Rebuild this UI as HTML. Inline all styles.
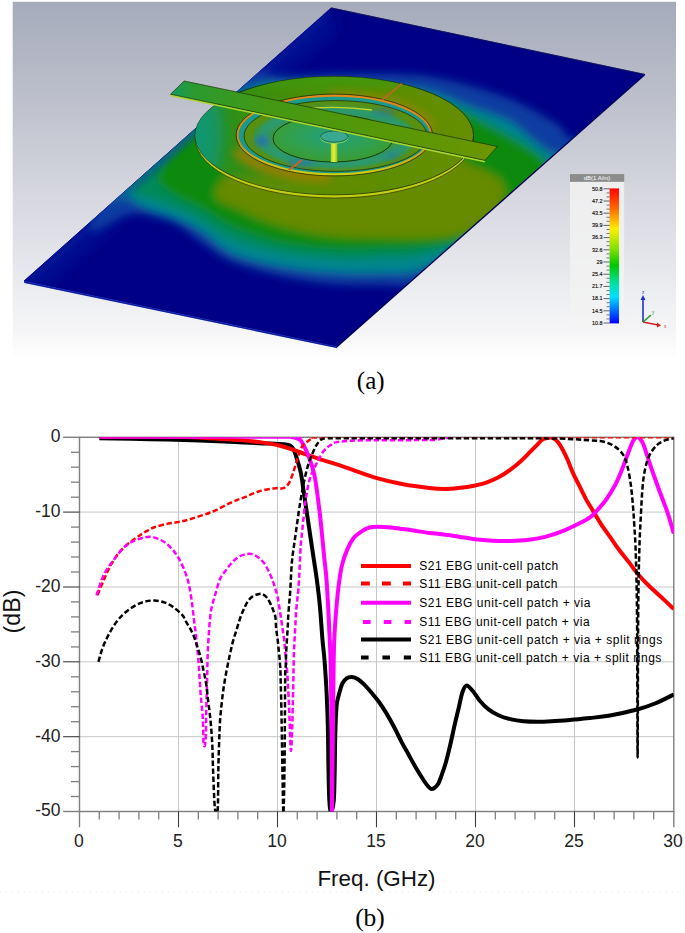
<!DOCTYPE html>
<html><head><meta charset="utf-8"><style>
html,body{margin:0;padding:0;background:#fff;}
body{width:685px;height:933px;overflow:hidden;position:relative;font-family:"Liberation Sans",sans-serif;}
svg{position:absolute;left:0;top:0;}
.cap{position:absolute;font-family:"Liberation Serif",serif;color:#000;}
</style></head><body>
<svg width="685" height="933" viewBox="0 0 685 933" font-family="Liberation Sans, sans-serif">
<defs>
<linearGradient id="bg" x1="0" y1="0" x2="0" y2="1">
<stop offset="0" stop-color="#a5abbb"/><stop offset="0.26" stop-color="#bcbfcb"/><stop offset="0.554" stop-color="#d7d8e0"/>
<stop offset="0.833" stop-color="#eeeff2"/><stop offset="0.917" stop-color="#f5f5f7"/><stop offset="1" stop-color="#ffffff"/>
</linearGradient>
<clipPath id="plate"><polygon points="331.2,7.9 644.7,74.4 336.7,346.4 24,281"/></clipPath>
<filter id="b12" x="-50%" y="-50%" width="200%" height="200%"><feGaussianBlur stdDeviation="12"/></filter>
<filter id="b8" x="-50%" y="-50%" width="200%" height="200%"><feGaussianBlur stdDeviation="8"/></filter>
<filter id="b5" x="-50%" y="-50%" width="200%" height="200%"><feGaussianBlur stdDeviation="5"/></filter>
<filter id="b4" x="-50%" y="-50%" width="200%" height="200%"><feGaussianBlur stdDeviation="4.5"/></filter>
<filter id="b3" x="-50%" y="-50%" width="200%" height="200%"><feGaussianBlur stdDeviation="3"/></filter>
<filter id="b1" x="-50%" y="-50%" width="200%" height="200%"><feGaussianBlur stdDeviation="1.2"/></filter>
<linearGradient id="cbar" x1="0" y1="0" x2="0" y2="1">
<stop offset="0" stop-color="#ff0000"/><stop offset="0.15" stop-color="#ff6a00"/><stop offset="0.3" stop-color="#ffee00"/>
<stop offset="0.45" stop-color="#80e000"/><stop offset="0.57" stop-color="#00c800"/><stop offset="0.7" stop-color="#00e0a0"/>
<stop offset="0.8" stop-color="#00e0ff"/><stop offset="0.9" stop-color="#0070ff"/><stop offset="1" stop-color="#0000ff"/>
</linearGradient>
<linearGradient id="via" x1="0" y1="0" x2="1" y2="0">
<stop offset="0" stop-color="#a8d820"/><stop offset="0.5" stop-color="#e8f040"/><stop offset="1" stop-color="#90c020"/>
</linearGradient>
<linearGradient id="diskg" x1="195" y1="0" x2="474" y2="0" gradientUnits="userSpaceOnUse">
<stop offset="0" stop-color="#229050"/><stop offset="0.12" stop-color="#2e9018"/><stop offset="0.4" stop-color="#4e8e06"/><stop offset="0.7" stop-color="#5e8e02"/><stop offset="1" stop-color="#668e00"/>
</linearGradient>
<radialGradient id="patchg" cx="0.5" cy="0.45" r="0.55">
<stop offset="0" stop-color="#20a080"/><stop offset="0.6" stop-color="#30a050"/><stop offset="1" stop-color="#3a9c30"/>
</radialGradient>
<linearGradient id="stripg" x1="170" y1="0" x2="497" y2="0" gradientUnits="userSpaceOnUse">
<stop offset="0" stop-color="#149a6a"/><stop offset="0.07" stop-color="#2a9a30"/><stop offset="0.3" stop-color="#449814"/><stop offset="0.6" stop-color="#549808"/><stop offset="0.85" stop-color="#629604"/><stop offset="1" stop-color="#6c9600"/>
</linearGradient>
<clipPath id="diskclip"><ellipse cx="334.3" cy="135.6" rx="139.2" ry="59.2"/></clipPath>
<linearGradient id="ringg" x1="0" y1="95" x2="0" y2="175" gradientUnits="userSpaceOnUse">
<stop offset="0" stop-color="#e08a1c"/><stop offset="0.55" stop-color="#d08a10"/><stop offset="1" stop-color="#d0d010"/>
</linearGradient>
</defs>
<rect x="12.7" y="1.8" width="663.3" height="358" fill="url(#bg)"/>
<polygon points="331.2,7.9 644.7,74.4 336.7,346.4 24,281" fill="#000086" stroke="#000086" stroke-width="0.8" stroke-linejoin="round"/>
<g clip-path="url(#plate)">
<rect x="0" y="0" width="685" height="360" fill="#000086"/>
<polygon points="331.2,7.9 24,281 40,290 336,30" fill="#0020a0" filter="url(#b8)" opacity="0.5"/>
<g filter="url(#b4)">
<path d="M90.0,230.0 C91.5,237.3 117.7,216.0 129.0,214.0 C140.3,212.0 150.7,216.5 158.0,218.0 C165.3,219.5 168.0,220.7 173.0,223.0 C178.0,225.3 182.7,228.3 188.0,232.0 C193.3,235.7 197.7,240.0 205.0,245.0 C212.3,250.0 219.5,256.8 232.0,262.0 C244.5,267.2 263.7,272.3 280.0,276.0 C296.3,279.7 313.3,282.5 330.0,284.0 C346.7,285.5 364.2,285.3 380.0,285.0 C395.8,284.7 405.0,289.5 425.0,282.0 C445.0,274.5 470.8,263.7 500.0,240.0 C529.2,216.3 588.3,157.0 600.0,140.0 C611.7,123.0 577.2,140.7 570.0,138.0 C562.8,135.3 567.3,130.7 557.0,124.0 C546.7,117.3 526.8,105.5 508.0,98.0 C489.2,90.5 462.0,83.0 444.0,79.0 C426.0,75.0 419.0,74.8 400.0,74.0 C381.0,73.2 350.0,73.7 330.0,74.0 C310.0,74.3 293.3,76.7 280.0,76.0 C266.7,75.3 263.3,67.7 250.0,70.0 C236.7,72.3 221.7,73.3 200.0,90.0 C178.3,106.7 138.3,146.7 120.0,170.0 C101.7,193.3 88.5,222.7 90.0,230.0 Z" fill="#0a3ca0"/>
<path d="M110.0,200.0 C102.7,207.8 120.3,195.8 126.0,197.0 C131.7,198.2 136.7,203.8 144.0,207.0 C151.3,210.2 160.7,212.2 170.0,216.0 C179.3,219.8 189.7,223.8 200.0,230.0 C210.3,236.2 218.7,247.0 232.0,253.0 C245.3,259.0 263.7,262.8 280.0,266.0 C296.3,269.2 313.3,270.8 330.0,272.0 C346.7,273.2 364.2,273.7 380.0,273.0 C395.8,272.3 408.3,275.2 425.0,268.0 C441.7,260.8 457.5,248.0 480.0,230.0 C502.5,212.0 548.3,172.8 560.0,160.0 C571.7,147.2 554.8,156.5 550.0,153.0 C545.2,149.5 538.0,144.3 531.0,139.0 C524.0,133.7 518.2,126.3 508.0,121.0 C497.8,115.7 484.7,112.2 470.0,107.0 C455.3,101.8 443.3,93.8 420.0,90.0 C396.7,86.2 356.7,85.0 330.0,84.0 C303.3,83.0 277.5,81.7 260.0,84.0 C242.5,86.3 240.0,87.0 225.0,98.0 C210.0,109.0 189.2,133.0 170.0,150.0 C150.8,167.0 117.3,192.2 110.0,200.0 Z" fill="#00868e"/>
<path d="M130.0,188.0 C130.0,195.2 150.0,198.5 160.0,203.0 C170.0,207.5 178.0,208.8 190.0,215.0 C202.0,221.2 217.0,233.7 232.0,240.0 C247.0,246.3 263.7,249.8 280.0,253.0 C296.3,256.2 313.3,258.0 330.0,259.0 C346.7,260.0 364.2,259.7 380.0,259.0 C395.8,258.3 410.0,259.0 425.0,255.0 C440.0,251.0 452.5,247.5 470.0,235.0 C487.5,222.5 520.8,191.7 530.0,180.0 C539.2,168.3 530.0,170.0 525.0,165.0 C520.0,160.0 509.2,156.7 500.0,150.0 C490.8,143.3 483.3,133.3 470.0,125.0 C456.7,116.7 443.3,105.0 420.0,100.0 C396.7,95.0 356.7,95.7 330.0,95.0 C303.3,94.3 280.0,92.7 260.0,96.0 C240.0,99.3 226.7,104.3 210.0,115.0 C193.3,125.7 173.3,147.8 160.0,160.0 C146.7,172.2 130.0,180.8 130.0,188.0 Z" fill="#008a5c"/>
<path d="M158.0,180.0 C159.0,186.8 169.0,191.3 176.0,196.0 C183.0,200.7 190.7,202.8 200.0,208.0 C209.3,213.2 218.7,221.2 232.0,227.0 C245.3,232.8 263.7,239.3 280.0,243.0 C296.3,246.7 313.3,248.0 330.0,249.0 C346.7,250.0 363.3,249.5 380.0,249.0 C396.7,248.5 415.0,247.8 430.0,246.0 C445.0,244.2 456.7,243.2 470.0,238.0 C483.3,232.8 499.2,223.8 510.0,215.0 C520.8,206.2 528.7,193.3 535.0,185.0 C541.3,176.7 549.7,171.7 548.0,165.0 C546.3,158.3 533.8,151.2 525.0,145.0 C516.2,138.8 505.8,133.8 495.0,128.0 C484.2,122.2 472.5,114.7 460.0,110.0 C447.5,105.3 441.7,100.8 420.0,100.0 C398.3,99.2 358.3,103.3 330.0,105.0 C301.7,106.7 271.7,105.8 250.0,110.0 C228.3,114.2 213.3,122.5 200.0,130.0 C186.7,137.5 177.0,146.7 170.0,155.0 C163.0,163.3 157.0,173.2 158.0,180.0 Z" fill="#108a0a"/>
<path d="M215.0,195.0 C215.0,201.7 229.2,204.8 240.0,210.0 C250.8,215.2 265.0,221.7 280.0,226.0 C295.0,230.3 313.3,234.0 330.0,236.0 C346.7,238.0 363.3,237.7 380.0,238.0 C396.7,238.3 415.8,238.8 430.0,238.0 C444.2,237.2 454.7,236.8 465.0,233.0 C475.3,229.2 485.3,221.3 492.0,215.0 C498.7,208.7 504.0,201.2 505.0,195.0 C506.0,188.8 503.8,183.0 498.0,178.0 C492.2,173.0 478.0,168.0 470.0,165.0 C462.0,162.0 473.3,160.0 450.0,160.0 C426.7,160.0 365.0,163.3 330.0,165.0 C295.0,166.7 259.2,165.0 240.0,170.0 C220.8,175.0 215.0,188.3 215.0,195.0 Z" fill="#668a00"/>
</g>
<polygon points="331.2,7.9 24,281 30,282 120,203 200,133 246,92 328,16" fill="#0a38a8" filter="url(#b3)" opacity="0.45"/>
</g>
<polygon points="24,281 336.7,346.4 337.4,348.3 24.2,282.9" fill="#1a34d0"/>
<polyline points="24.5,282.2 336.9,347.4" fill="none" stroke="#000040" stroke-width="0.6" opacity="0.8"/>
<polyline points="336.7,347 645,74.6" fill="none" stroke="#000050" stroke-width="1.2"/>
<polyline points="331.2,7.9 644.7,74.4" fill="none" stroke="#202040" stroke-width="0.6"/>
<ellipse cx="334.3" cy="138.2" rx="139.2" ry="59.8" fill="#c0d010" stroke="#303000" stroke-width="0.7"/>
<ellipse cx="334.3" cy="135.6" rx="139.2" ry="59.2" fill="url(#diskg)" stroke="#1a2800" stroke-width="0.8"/>
<g clip-path="url(#diskclip)">
<ellipse cx="200" cy="135" rx="22" ry="45" fill="#109878" filter="url(#b8)" opacity="0.8"/>
<ellipse cx="300" cy="185" rx="80" ry="12" fill="#6a8c00" filter="url(#b5)" opacity="0.6"/>
<ellipse cx="334" cy="80" rx="90" ry="10" fill="#3c9a10" filter="url(#b5)" opacity="0.7"/>
<path d="M236,150 A97,40 0 0 0 330,176" fill="none" stroke="#b07a00" stroke-width="9" filter="url(#b4)" opacity="0.9"/>
<path d="M330,96 A97,40 0 0 1 432,130" fill="none" stroke="#a08400" stroke-width="8" filter="url(#b4)" opacity="0.8"/>
</g>
<ellipse cx="334.3" cy="135" rx="96.7" ry="39.4" fill="#1a9a8c" stroke="url(#ringg)" stroke-width="2.2"/>
<ellipse cx="334.3" cy="135" rx="98.2" ry="40.9" fill="none" stroke="#202000" stroke-width="0.7"/>
<ellipse cx="335.6" cy="136" rx="91.5" ry="35.4" fill="#5a9010" stroke="#203000" stroke-width="0.8"/>
<ellipse cx="335" cy="137.5" rx="82" ry="30.5" fill="#3a9840" filter="url(#b1)"/>
<ellipse cx="335" cy="137.5" rx="72" ry="26.5" fill="none" stroke="#1a9aa0" stroke-width="6" filter="url(#b3)" opacity="0.75"/>
<path d="M300,109.5 Q335,105 372,110" fill="none" stroke="#c8d820" stroke-width="1.3"/>
<g filter="url(#b3)">
<ellipse cx="262" cy="141" rx="7" ry="5" fill="#2868c0" opacity="0.8"/>
<ellipse cx="300" cy="163" rx="14" ry="2.5" fill="#2868c0" opacity="0.8"/>
<ellipse cx="385" cy="112" rx="12" ry="3" fill="#2868c0" opacity="0.6"/>
<ellipse cx="392" cy="156" rx="8" ry="2.5" fill="#2868c0" opacity="0.6"/>
</g>
<ellipse cx="333" cy="138.5" rx="60" ry="23.5" fill="url(#patchg)" stroke="#102000" stroke-width="0.8"/>
<line x1="382" y1="100" x2="402" y2="83.6" stroke="#d0602a" stroke-width="1.6"/>
<line x1="289" y1="170" x2="302" y2="160" stroke="#d0602a" stroke-width="1.6"/>
<rect x="330.8" y="139" width="6.5" height="23" fill="url(#via)"/>
<ellipse cx="334.2" cy="137.8" rx="13.8" ry="5.6" fill="#30b0a0" stroke="#a0e040" stroke-width="0.8"/>
<ellipse cx="334.2" cy="136.6" rx="13.8" ry="5.6" fill="#38a890" stroke="#104020" stroke-width="0.6"/>
<polygon points="170.5,94.2 485,160.4 485,162.4 170.5,96.2" fill="#a8d830"/>
<polygon points="184.2,81 497.5,146.5 485,160.4 170.5,94.2" fill="url(#stripg)" stroke="#1a3000" stroke-width="0.7"/>
<rect x="570" y="181.8" width="54.2" height="144.7" fill="#f2f2f2" opacity="0.85"/>
<rect x="570" y="174.1" width="54.2" height="7.7" fill="#8c8c8c"/>
<text x="597" y="180.4" font-size="6" text-anchor="middle" fill="#fff">dB(1 A/m)</text>
<rect x="609.6" y="188.4" width="9.4" height="135" fill="url(#cbar)"/>
<line x1="603.5" y1="188.8" x2="609.6" y2="188.8" stroke="#222" stroke-width="0.7"/>
<text x="602.5" y="190.6" font-size="5.4" text-anchor="end" fill="#111" stroke="#111" stroke-width="0.15">50.8</text>
<line x1="606.5" y1="192.9" x2="609.6" y2="192.9" stroke="#222" stroke-width="0.6"/>
<line x1="606.5" y1="196.9" x2="609.6" y2="196.9" stroke="#222" stroke-width="0.6"/>
<line x1="603.5" y1="201.0" x2="609.6" y2="201.0" stroke="#222" stroke-width="0.7"/>
<text x="602.5" y="202.8" font-size="5.4" text-anchor="end" fill="#111" stroke="#111" stroke-width="0.15">47.2</text>
<line x1="606.5" y1="205.1" x2="609.6" y2="205.1" stroke="#222" stroke-width="0.6"/>
<line x1="606.5" y1="209.1" x2="609.6" y2="209.1" stroke="#222" stroke-width="0.6"/>
<line x1="603.5" y1="213.2" x2="609.6" y2="213.2" stroke="#222" stroke-width="0.7"/>
<text x="602.5" y="215.0" font-size="5.4" text-anchor="end" fill="#111" stroke="#111" stroke-width="0.15">43.5</text>
<line x1="606.5" y1="217.3" x2="609.6" y2="217.3" stroke="#222" stroke-width="0.6"/>
<line x1="606.5" y1="221.3" x2="609.6" y2="221.3" stroke="#222" stroke-width="0.6"/>
<line x1="603.5" y1="225.4" x2="609.6" y2="225.4" stroke="#222" stroke-width="0.7"/>
<text x="602.5" y="227.2" font-size="5.4" text-anchor="end" fill="#111" stroke="#111" stroke-width="0.15">39.9</text>
<line x1="606.5" y1="229.5" x2="609.6" y2="229.5" stroke="#222" stroke-width="0.6"/>
<line x1="606.5" y1="233.5" x2="609.6" y2="233.5" stroke="#222" stroke-width="0.6"/>
<line x1="603.5" y1="237.6" x2="609.6" y2="237.6" stroke="#222" stroke-width="0.7"/>
<text x="602.5" y="239.4" font-size="5.4" text-anchor="end" fill="#111" stroke="#111" stroke-width="0.15">36.3</text>
<line x1="606.5" y1="241.7" x2="609.6" y2="241.7" stroke="#222" stroke-width="0.6"/>
<line x1="606.5" y1="245.7" x2="609.6" y2="245.7" stroke="#222" stroke-width="0.6"/>
<line x1="603.5" y1="249.8" x2="609.6" y2="249.8" stroke="#222" stroke-width="0.7"/>
<text x="602.5" y="251.6" font-size="5.4" text-anchor="end" fill="#111" stroke="#111" stroke-width="0.15">32.6</text>
<line x1="606.5" y1="253.9" x2="609.6" y2="253.9" stroke="#222" stroke-width="0.6"/>
<line x1="606.5" y1="257.9" x2="609.6" y2="257.9" stroke="#222" stroke-width="0.6"/>
<line x1="603.5" y1="262.0" x2="609.6" y2="262.0" stroke="#222" stroke-width="0.7"/>
<text x="602.5" y="263.8" font-size="5.4" text-anchor="end" fill="#111" stroke="#111" stroke-width="0.15">29</text>
<line x1="606.5" y1="266.1" x2="609.6" y2="266.1" stroke="#222" stroke-width="0.6"/>
<line x1="606.5" y1="270.1" x2="609.6" y2="270.1" stroke="#222" stroke-width="0.6"/>
<line x1="603.5" y1="274.2" x2="609.6" y2="274.2" stroke="#222" stroke-width="0.7"/>
<text x="602.5" y="276.0" font-size="5.4" text-anchor="end" fill="#111" stroke="#111" stroke-width="0.15">25.4</text>
<line x1="606.5" y1="278.3" x2="609.6" y2="278.3" stroke="#222" stroke-width="0.6"/>
<line x1="606.5" y1="282.3" x2="609.6" y2="282.3" stroke="#222" stroke-width="0.6"/>
<line x1="603.5" y1="286.4" x2="609.6" y2="286.4" stroke="#222" stroke-width="0.7"/>
<text x="602.5" y="288.2" font-size="5.4" text-anchor="end" fill="#111" stroke="#111" stroke-width="0.15">21.7</text>
<line x1="606.5" y1="290.5" x2="609.6" y2="290.5" stroke="#222" stroke-width="0.6"/>
<line x1="606.5" y1="294.5" x2="609.6" y2="294.5" stroke="#222" stroke-width="0.6"/>
<line x1="603.5" y1="298.6" x2="609.6" y2="298.6" stroke="#222" stroke-width="0.7"/>
<text x="602.5" y="300.4" font-size="5.4" text-anchor="end" fill="#111" stroke="#111" stroke-width="0.15">18.1</text>
<line x1="606.5" y1="302.7" x2="609.6" y2="302.7" stroke="#222" stroke-width="0.6"/>
<line x1="606.5" y1="306.7" x2="609.6" y2="306.7" stroke="#222" stroke-width="0.6"/>
<line x1="603.5" y1="310.8" x2="609.6" y2="310.8" stroke="#222" stroke-width="0.7"/>
<text x="602.5" y="312.6" font-size="5.4" text-anchor="end" fill="#111" stroke="#111" stroke-width="0.15">14.5</text>
<line x1="606.5" y1="314.9" x2="609.6" y2="314.9" stroke="#222" stroke-width="0.6"/>
<line x1="606.5" y1="318.9" x2="609.6" y2="318.9" stroke="#222" stroke-width="0.6"/>
<line x1="603.5" y1="323.0" x2="609.6" y2="323.0" stroke="#222" stroke-width="0.7"/>
<text x="602.5" y="324.8" font-size="5.4" text-anchor="end" fill="#111" stroke="#111" stroke-width="0.15">10.8</text>
<line x1="643" y1="322" x2="643" y2="298" stroke="#2030d0" stroke-width="1.6"/>
<polygon points="640.5,300 645.5,300 643,295" fill="#2030d0"/>
<line x1="643" y1="322" x2="658" y2="325" stroke="#d02020" stroke-width="1.6"/>
<polygon points="657,322.5 657,327.5 661,325.5" fill="#d02020"/>
<line x1="643" y1="322" x2="651" y2="315" stroke="#20a020" stroke-width="1.6"/>
<text x="642" y="294" font-size="4.5" fill="#2030d0">z</text>
<text x="664" y="328" font-size="4.5" fill="#d02020">x</text>
<text x="652" y="314" font-size="4.5" fill="#20a020">y</text>
<line x1="79.5" y1="512.1" x2="673.8" y2="512.1" stroke="#c6c6c6" stroke-width="1"/>
<line x1="79.5" y1="587.0" x2="673.8" y2="587.0" stroke="#c6c6c6" stroke-width="1"/>
<line x1="79.5" y1="661.8" x2="673.8" y2="661.8" stroke="#c6c6c6" stroke-width="1"/>
<line x1="79.5" y1="736.7" x2="673.8" y2="736.7" stroke="#c6c6c6" stroke-width="1"/>
<line x1="178.5" y1="437.3" x2="178.5" y2="811.5" stroke="#c6c6c6" stroke-width="1"/>
<line x1="277.5" y1="437.3" x2="277.5" y2="811.5" stroke="#c6c6c6" stroke-width="1"/>
<line x1="376.5" y1="437.3" x2="376.5" y2="811.5" stroke="#c6c6c6" stroke-width="1"/>
<line x1="475.5" y1="437.3" x2="475.5" y2="811.5" stroke="#c6c6c6" stroke-width="1"/>
<line x1="574.5" y1="437.3" x2="574.5" y2="811.5" stroke="#c6c6c6" stroke-width="1"/>
<rect x="79.5" y="437.3" width="594.3" height="374.2" fill="none" stroke="#7f7f7f" stroke-width="1.4"/>
<line x1="63.1" y1="437.3" x2="79.5" y2="437.3" stroke="#7f7f7f" stroke-width="1.4"/>
<line x1="71.0" y1="452.3" x2="79.5" y2="452.3" stroke="#7f7f7f" stroke-width="1.3"/>
<line x1="71.0" y1="467.2" x2="79.5" y2="467.2" stroke="#7f7f7f" stroke-width="1.3"/>
<line x1="71.0" y1="482.2" x2="79.5" y2="482.2" stroke="#7f7f7f" stroke-width="1.3"/>
<line x1="71.0" y1="497.2" x2="79.5" y2="497.2" stroke="#7f7f7f" stroke-width="1.3"/>
<line x1="63.1" y1="512.1" x2="79.5" y2="512.1" stroke="#3c3c3c" stroke-width="1.1"/>
<line x1="71.0" y1="527.1" x2="79.5" y2="527.1" stroke="#7f7f7f" stroke-width="1.3"/>
<line x1="71.0" y1="542.1" x2="79.5" y2="542.1" stroke="#7f7f7f" stroke-width="1.3"/>
<line x1="71.0" y1="557.0" x2="79.5" y2="557.0" stroke="#7f7f7f" stroke-width="1.3"/>
<line x1="71.0" y1="572.0" x2="79.5" y2="572.0" stroke="#7f7f7f" stroke-width="1.3"/>
<line x1="63.1" y1="587.0" x2="79.5" y2="587.0" stroke="#3c3c3c" stroke-width="1.1"/>
<line x1="71.0" y1="601.9" x2="79.5" y2="601.9" stroke="#7f7f7f" stroke-width="1.3"/>
<line x1="71.0" y1="616.9" x2="79.5" y2="616.9" stroke="#7f7f7f" stroke-width="1.3"/>
<line x1="71.0" y1="631.9" x2="79.5" y2="631.9" stroke="#7f7f7f" stroke-width="1.3"/>
<line x1="71.0" y1="646.9" x2="79.5" y2="646.9" stroke="#7f7f7f" stroke-width="1.3"/>
<line x1="63.1" y1="661.8" x2="79.5" y2="661.8" stroke="#3c3c3c" stroke-width="1.1"/>
<line x1="71.0" y1="676.8" x2="79.5" y2="676.8" stroke="#7f7f7f" stroke-width="1.3"/>
<line x1="71.0" y1="691.8" x2="79.5" y2="691.8" stroke="#7f7f7f" stroke-width="1.3"/>
<line x1="71.0" y1="706.7" x2="79.5" y2="706.7" stroke="#7f7f7f" stroke-width="1.3"/>
<line x1="71.0" y1="721.7" x2="79.5" y2="721.7" stroke="#7f7f7f" stroke-width="1.3"/>
<line x1="63.1" y1="736.7" x2="79.5" y2="736.7" stroke="#3c3c3c" stroke-width="1.1"/>
<line x1="71.0" y1="751.6" x2="79.5" y2="751.6" stroke="#7f7f7f" stroke-width="1.3"/>
<line x1="71.0" y1="766.6" x2="79.5" y2="766.6" stroke="#7f7f7f" stroke-width="1.3"/>
<line x1="71.0" y1="781.6" x2="79.5" y2="781.6" stroke="#7f7f7f" stroke-width="1.3"/>
<line x1="71.0" y1="796.5" x2="79.5" y2="796.5" stroke="#7f7f7f" stroke-width="1.3"/>
<line x1="63.1" y1="811.5" x2="79.5" y2="811.5" stroke="#7f7f7f" stroke-width="1.4"/>
<line x1="79.5" y1="811.5" x2="79.5" y2="827.3" stroke="#7f7f7f" stroke-width="1.4"/>
<line x1="99.3" y1="811.5" x2="99.3" y2="819.6" stroke="#7f7f7f" stroke-width="1.3"/>
<line x1="119.1" y1="811.5" x2="119.1" y2="819.6" stroke="#7f7f7f" stroke-width="1.3"/>
<line x1="138.9" y1="811.5" x2="138.9" y2="819.6" stroke="#7f7f7f" stroke-width="1.3"/>
<line x1="158.7" y1="811.5" x2="158.7" y2="819.6" stroke="#7f7f7f" stroke-width="1.3"/>
<line x1="178.5" y1="811.5" x2="178.5" y2="827.3" stroke="#3c3c3c" stroke-width="1.1"/>
<line x1="198.3" y1="811.5" x2="198.3" y2="819.6" stroke="#7f7f7f" stroke-width="1.3"/>
<line x1="218.1" y1="811.5" x2="218.1" y2="819.6" stroke="#7f7f7f" stroke-width="1.3"/>
<line x1="237.9" y1="811.5" x2="237.9" y2="819.6" stroke="#7f7f7f" stroke-width="1.3"/>
<line x1="257.7" y1="811.5" x2="257.7" y2="819.6" stroke="#7f7f7f" stroke-width="1.3"/>
<line x1="277.5" y1="811.5" x2="277.5" y2="827.3" stroke="#3c3c3c" stroke-width="1.1"/>
<line x1="297.3" y1="811.5" x2="297.3" y2="819.6" stroke="#7f7f7f" stroke-width="1.3"/>
<line x1="317.1" y1="811.5" x2="317.1" y2="819.6" stroke="#7f7f7f" stroke-width="1.3"/>
<line x1="336.9" y1="811.5" x2="336.9" y2="819.6" stroke="#7f7f7f" stroke-width="1.3"/>
<line x1="356.7" y1="811.5" x2="356.7" y2="819.6" stroke="#7f7f7f" stroke-width="1.3"/>
<line x1="376.5" y1="811.5" x2="376.5" y2="827.3" stroke="#3c3c3c" stroke-width="1.1"/>
<line x1="396.3" y1="811.5" x2="396.3" y2="819.6" stroke="#7f7f7f" stroke-width="1.3"/>
<line x1="416.1" y1="811.5" x2="416.1" y2="819.6" stroke="#7f7f7f" stroke-width="1.3"/>
<line x1="435.9" y1="811.5" x2="435.9" y2="819.6" stroke="#7f7f7f" stroke-width="1.3"/>
<line x1="455.7" y1="811.5" x2="455.7" y2="819.6" stroke="#7f7f7f" stroke-width="1.3"/>
<line x1="475.5" y1="811.5" x2="475.5" y2="827.3" stroke="#3c3c3c" stroke-width="1.1"/>
<line x1="495.3" y1="811.5" x2="495.3" y2="819.6" stroke="#7f7f7f" stroke-width="1.3"/>
<line x1="515.1" y1="811.5" x2="515.1" y2="819.6" stroke="#7f7f7f" stroke-width="1.3"/>
<line x1="534.9" y1="811.5" x2="534.9" y2="819.6" stroke="#7f7f7f" stroke-width="1.3"/>
<line x1="554.7" y1="811.5" x2="554.7" y2="819.6" stroke="#7f7f7f" stroke-width="1.3"/>
<line x1="574.5" y1="811.5" x2="574.5" y2="827.3" stroke="#3c3c3c" stroke-width="1.1"/>
<line x1="594.3" y1="811.5" x2="594.3" y2="819.6" stroke="#7f7f7f" stroke-width="1.3"/>
<line x1="614.1" y1="811.5" x2="614.1" y2="819.6" stroke="#7f7f7f" stroke-width="1.3"/>
<line x1="633.9" y1="811.5" x2="633.9" y2="819.6" stroke="#7f7f7f" stroke-width="1.3"/>
<line x1="653.7" y1="811.5" x2="653.7" y2="819.6" stroke="#7f7f7f" stroke-width="1.3"/>
<line x1="673.8" y1="811.5" x2="673.8" y2="827.3" stroke="#7f7f7f" stroke-width="1.4"/>
<defs><clipPath id="pc"><rect x="79.5" y="437.3" width="594.3" height="374.2"/></clipPath></defs>
<g clip-path="url(#pc)" fill="none" stroke-linejoin="round">
<path d="M99.3,438.2 C107.8,438.4 133.2,438.8 150.0,439.2 C166.8,439.6 186.7,440.1 200.0,440.5 C213.3,440.9 221.7,441.4 230.0,441.8 C238.3,442.2 243.3,442.5 250.0,442.8 C256.7,443.1 264.1,443.3 270.0,443.6 C275.9,443.9 281.9,444.1 285.3,444.5 C288.7,444.9 289.0,445.0 290.4,445.8 C291.8,446.6 292.5,447.5 293.5,449.4 C294.5,451.3 295.2,453.4 296.4,457.2 C297.6,461.0 299.4,466.1 300.7,472.2 C302.0,478.3 302.9,486.5 304.0,493.6 C305.1,500.8 306.1,507.9 307.2,515.1 C308.3,522.3 309.3,529.5 310.4,536.6 C311.5,543.8 312.5,550.9 313.6,558.0 C314.7,565.1 315.7,571.3 316.8,579.5 C317.9,587.7 319.1,597.3 320.0,607.4 C320.9,617.5 321.8,631.4 322.5,640.0 C323.2,648.6 323.8,651.0 324.4,658.8 C325.0,666.6 325.7,676.0 326.3,687.0 C326.9,698.0 327.4,710.4 327.8,724.5 C328.2,738.6 328.2,758.9 328.5,771.5 C328.8,784.1 328.9,793.2 329.3,800.0 C329.7,806.8 330.2,812.0 331.0,812.0 C331.8,812.0 333.2,806.8 333.8,800.0 C334.4,793.2 334.4,782.5 334.7,771.5 C334.9,760.5 335.0,744.9 335.3,733.9 C335.6,722.9 336.0,712.2 336.6,705.7 C337.2,699.2 337.9,698.7 338.8,695.0 C339.8,691.3 341.0,686.4 342.3,683.6 C343.6,680.8 345.0,679.5 346.6,678.4 C348.2,677.3 350.0,677.0 351.9,677.1 C353.8,677.2 355.8,677.9 358.0,679.3 C360.2,680.7 362.7,683.1 365.0,685.4 C367.3,687.7 369.7,690.5 372.0,693.3 C374.3,696.1 376.7,698.8 379.0,702.0 C381.3,705.2 383.4,708.3 386.0,712.6 C388.6,716.9 392.0,723.0 394.6,728.0 C397.2,733.0 399.5,738.0 401.9,742.6 C404.3,747.2 406.8,751.3 409.2,755.7 C411.6,760.1 414.1,764.7 416.5,768.8 C418.9,772.9 421.9,777.6 423.8,780.5 C425.7,783.4 426.8,784.9 428.0,786.3 C429.2,787.7 430.0,788.6 431.1,788.9 C432.2,789.1 433.3,788.7 434.5,787.8 C435.7,786.9 437.3,785.3 438.4,783.4 C439.5,781.5 440.1,779.5 441.3,776.1 C442.5,772.7 444.2,768.1 445.7,763.0 C447.2,757.9 448.6,751.8 450.1,745.5 C451.6,739.2 453.1,731.8 454.5,725.5 C455.9,719.2 457.5,713.1 458.8,707.5 C460.1,701.9 461.2,695.7 462.5,692.0 C463.8,688.3 464.9,685.6 466.6,685.4 C468.3,685.2 470.6,688.5 472.8,691.0 C475.0,693.5 477.2,697.6 479.8,700.7 C482.4,703.8 485.3,706.9 488.5,709.4 C491.7,711.9 495.2,713.8 499.0,715.5 C502.8,717.2 507.2,718.4 511.3,719.4 C515.4,720.4 519.2,720.8 523.6,721.2 C528.0,721.6 532.9,721.7 537.6,721.7 C542.3,721.7 546.2,721.5 551.6,721.2 C557.0,720.9 563.6,720.4 570.0,719.9 C576.4,719.4 583.3,718.7 590.0,718.0 C596.7,717.3 602.2,716.9 610.0,715.5 C617.8,714.1 629.5,711.5 637.0,709.5 C644.5,707.5 648.9,706.0 655.0,703.5 C661.1,701.0 670.7,696.0 673.8,694.5" stroke="#000" stroke-width="4"/>
<path d="M99.3,436.5 C107.8,436.5 135.7,436.5 150.0,436.6 C164.3,436.7 176.7,436.8 185.0,437.0 C193.3,437.2 194.8,437.3 200.0,437.6 C205.2,437.9 210.7,438.3 216.0,438.6 C221.3,438.9 226.0,439.2 232.0,439.6 C238.0,440.0 245.6,440.5 251.9,441.2 C258.2,441.9 265.3,442.8 270.0,443.6 C274.7,444.4 276.8,444.9 280.2,445.8 C283.6,446.7 287.0,447.8 290.4,448.9 C293.8,450.0 297.3,451.3 300.7,452.5 C304.1,453.7 307.5,454.9 310.9,456.1 C314.3,457.3 317.7,458.5 321.1,459.6 C324.5,460.7 326.7,461.2 331.3,462.7 C335.9,464.1 340.9,465.7 348.5,468.3 C356.1,470.9 367.8,475.5 376.9,478.2 C386.0,480.9 394.4,482.7 403.2,484.3 C412.0,485.9 422.6,487.2 429.5,488.0 C436.4,488.8 439.7,488.9 444.8,488.9 C449.9,488.9 455.1,488.3 460.0,487.8 C464.9,487.3 469.6,486.6 474.0,485.7 C478.4,484.8 482.2,484.0 486.3,482.6 C490.4,481.2 494.4,479.5 498.5,477.3 C502.6,475.1 507.0,472.2 510.8,469.4 C514.6,466.6 518.1,463.6 521.3,460.7 C524.5,457.8 527.5,454.5 530.1,451.9 C532.7,449.3 535.1,446.9 537.1,444.9 C539.1,442.8 540.5,440.8 542.3,439.6 C544.0,438.4 545.8,438.2 547.6,437.9 C549.4,437.6 551.1,437.2 552.9,437.9 C554.6,438.6 556.4,440.1 558.1,442.3 C559.9,444.5 561.8,448.1 563.4,451.0 C565.0,453.9 566.1,456.4 567.7,460.0 C569.3,463.6 571.0,468.6 572.9,472.9 C574.8,477.2 577.2,481.4 579.3,485.7 C581.4,490.0 583.4,494.3 585.7,498.6 C588.1,502.9 590.8,507.1 593.4,511.4 C596.0,515.7 598.4,520.0 601.2,524.3 C604.0,528.6 607.2,532.9 610.2,537.2 C613.2,541.5 616.0,545.7 619.2,550.0 C622.4,554.3 626.5,559.0 629.5,562.9 C632.5,566.8 634.2,569.6 637.2,573.2 C640.2,576.8 643.5,580.5 647.6,584.5 C651.7,588.5 657.2,593.4 661.6,597.5 C666.0,601.6 671.8,607.1 673.8,609.0" stroke="#ff0000" stroke-width="4"/>
<path d="M99.3,436.7 C130.2,436.7 253.1,436.6 285.0,436.7 C316.9,436.8 289.2,436.8 291.0,437.0 C292.8,437.2 293.9,437.3 295.5,437.9 C297.1,438.5 299.2,438.8 300.7,440.4 C302.2,442.0 303.4,444.9 304.7,447.4 C306.0,449.9 307.1,452.4 308.3,455.5 C309.5,458.6 310.8,462.1 311.9,465.8 C313.0,469.6 314.1,473.1 315.0,478.0 C315.9,482.9 316.7,488.8 317.5,495.0 C318.3,501.2 319.2,508.2 320.0,515.1 C320.8,522.0 321.5,529.5 322.2,536.6 C322.9,543.8 323.6,550.9 324.3,558.0 C325.0,565.1 325.9,571.3 326.5,579.5 C327.1,587.7 327.7,598.1 328.2,607.4 C328.7,616.6 329.1,626.2 329.5,635.0 C329.9,643.8 330.3,649.2 330.6,660.0 C330.9,670.8 331.1,683.3 331.3,700.0 C331.5,716.7 331.7,741.3 331.8,760.0 C331.9,778.7 331.9,812.0 332.0,812.0 C332.1,812.0 332.4,778.7 332.6,760.0 C332.8,741.3 333.0,716.7 333.2,700.0 C333.4,683.3 333.5,670.8 333.7,660.0 C333.9,649.2 334.1,643.3 334.5,635.0 C334.9,626.7 335.5,618.5 336.2,610.1 C336.9,601.7 337.8,591.9 338.8,584.4 C339.8,576.9 340.6,570.9 342.0,565.1 C343.4,559.3 345.3,554.1 347.2,549.6 C349.1,545.1 351.2,541.0 353.6,538.0 C356.0,535.0 358.7,533.3 361.3,531.6 C363.9,529.9 366.5,528.5 369.1,527.7 C371.7,526.9 373.4,526.8 376.9,526.8 C380.4,526.8 384.9,526.9 390.0,527.4 C395.1,527.9 401.0,528.7 407.6,529.6 C414.2,530.5 424.1,532.3 429.5,533.0 C434.9,533.7 435.3,533.4 440.0,534.0 C444.7,534.6 451.7,535.5 457.5,536.4 C463.3,537.3 469.1,538.6 475.0,539.3 C480.9,540.0 486.8,540.4 492.6,540.7 C498.4,541.0 504.2,541.1 510.0,541.0 C515.8,540.9 521.8,540.8 527.6,540.1 C533.5,539.4 539.3,538.4 545.1,536.9 C550.9,535.4 557.3,533.2 562.6,531.1 C567.9,529.0 572.4,526.8 577.0,524.5 C581.6,522.2 586.5,520.0 590.0,517.4 C593.5,514.8 595.8,511.9 598.3,509.1 C600.8,506.3 603.2,503.5 605.3,500.7 C607.4,497.9 608.9,495.4 610.8,492.4 C612.6,489.4 614.7,486.2 616.4,482.7 C618.1,479.2 619.7,475.3 621.2,471.6 C622.7,467.9 624.0,464.2 625.4,460.5 C626.8,456.8 628.2,452.6 629.5,449.4 C630.8,446.2 632.0,443.1 633.0,441.1 C634.0,439.1 635.0,438.3 635.8,437.6 C636.6,436.9 637.0,436.8 637.6,436.9 C638.2,436.9 638.5,437.1 639.2,437.9 C639.9,438.7 641.2,440.1 642.0,441.5 C642.8,442.9 643.4,444.3 644.2,446.6 C645.1,448.9 646.1,452.5 647.1,455.4 C648.1,458.3 649.0,461.2 650.0,464.1 C651.0,467.0 651.9,469.8 653.0,472.9 C654.1,476.0 655.1,478.8 656.6,483.0 C658.1,487.2 660.2,493.0 662.1,498.0 C664.0,503.0 665.8,507.3 667.7,513.2 C669.7,519.1 672.8,530.1 673.8,533.5" stroke="#ff00ff" stroke-width="4"/>
<path d="M97.5,595.0 C98.5,592.7 101.1,586.2 103.2,581.4 C105.3,576.6 107.7,570.9 110.2,566.2 C112.7,561.5 115.7,556.9 118.4,553.4 C121.1,549.9 123.8,547.6 126.5,545.2 C129.2,542.8 132.2,540.6 134.7,538.8 C137.2,536.9 139.5,535.5 141.7,534.1 C143.8,532.7 145.4,531.8 147.6,530.6 C149.8,529.4 151.7,528.1 155.0,527.0 C158.3,525.9 163.7,524.5 167.6,523.7 C171.5,522.9 174.8,522.7 178.5,522.0 C182.2,521.3 184.0,520.9 189.5,519.3 C195.0,517.6 204.7,514.8 211.4,512.1 C218.2,509.4 224.5,505.5 230.0,503.0 C235.5,500.5 239.7,499.1 244.6,497.2 C249.5,495.2 254.3,492.8 259.2,491.3 C264.1,489.8 269.9,488.9 273.8,488.4 C277.7,487.9 280.2,489.1 282.6,488.4 C285.0,487.7 286.7,486.4 288.4,484.0 C290.1,481.6 291.3,477.9 292.8,473.8 C294.3,469.7 295.8,463.6 297.2,459.2 C298.6,454.8 299.7,450.5 301.5,447.5 C303.3,444.5 305.9,442.8 307.8,441.2 C309.7,439.6 310.7,438.8 312.9,438.2 C315.1,437.6 306.6,437.5 321.1,437.4 C335.6,437.2 341.2,437.3 400.0,437.3 C458.8,437.3 628.2,437.3 673.8,437.3" stroke="#ff0000" stroke-width="2.5" stroke-dasharray="5.4 2.6"/>
<path d="M96.5,595.5 C97.4,592.8 100.3,583.3 102.0,579.0 C103.7,574.7 105.1,572.4 106.7,569.7 C108.3,567.0 109.9,564.8 111.4,562.7 C113.0,560.6 114.5,558.9 116.0,556.9 C117.5,554.9 119.0,553.0 120.7,551.0 C122.5,549.0 124.4,546.9 126.5,545.2 C128.6,543.6 131.0,542.3 133.5,541.1 C136.0,539.9 139.0,538.9 141.7,538.2 C144.4,537.5 147.2,536.7 149.9,536.8 C152.6,536.9 155.4,537.7 158.1,538.8 C160.8,539.9 163.7,541.5 166.2,543.4 C168.7,545.3 171.1,548.0 173.2,550.4 C175.2,552.8 176.8,555.1 178.5,558.0 C180.2,560.9 182.0,564.5 183.5,568.0 C185.0,571.5 186.5,575.7 187.5,579.0 C188.5,582.3 188.8,584.0 189.6,588.0 C190.3,592.0 191.3,597.7 192.0,603.0 C192.7,608.3 193.4,615.0 194.0,620.0 C194.6,625.0 195.2,628.6 195.7,632.9 C196.2,637.2 196.6,641.5 197.0,645.8 C197.4,650.1 197.9,654.3 198.3,658.6 C198.7,662.9 198.9,667.2 199.2,671.5 C199.5,675.8 199.7,680.1 200.0,684.4 C200.3,688.7 200.4,691.6 200.9,697.3 C201.4,703.0 202.3,710.8 202.8,718.7 C203.3,726.6 203.2,740.8 203.7,744.5 C204.2,748.2 205.2,745.9 205.6,741.0 C206.0,736.1 206.0,721.7 206.2,714.9 C206.3,708.1 206.4,704.4 206.5,700.0 C206.6,695.6 206.8,693.5 206.9,688.7 C207.0,684.0 207.2,677.2 207.3,671.5 C207.4,665.8 207.5,660.0 207.7,654.3 C207.9,648.6 208.2,642.9 208.6,637.2 C209.0,631.5 209.4,624.9 209.9,620.0 C210.4,615.1 210.7,612.1 211.5,608.0 C212.3,603.9 213.6,600.1 215.0,595.3 C216.4,590.5 218.3,583.0 220.0,579.0 C221.7,575.0 223.3,573.9 225.0,571.5 C226.7,569.1 228.4,566.7 230.3,564.5 C232.2,562.3 234.2,560.0 236.4,558.4 C238.6,556.8 240.9,555.6 243.4,554.9 C245.9,554.2 248.8,553.6 251.3,554.0 C253.8,554.4 256.1,555.9 258.3,557.5 C260.5,559.1 262.6,561.3 264.4,563.6 C266.1,565.9 267.5,568.9 268.8,571.5 C270.1,574.1 271.3,576.8 272.3,579.4 C273.3,582.0 274.0,584.4 274.9,587.3 C275.8,590.2 276.8,593.3 277.6,596.9 C278.4,600.5 279.0,605.0 279.6,609.0 C280.2,613.0 280.9,617.2 281.4,620.8 C281.9,624.4 282.3,627.1 282.8,630.5 C283.3,633.9 283.9,637.6 284.3,641.1 C284.7,644.6 284.9,648.2 285.2,651.7 C285.5,655.2 285.9,658.9 286.2,662.3 C286.5,665.7 286.9,668.1 287.2,671.9 C287.5,675.7 287.7,678.6 288.0,685.0 C288.3,691.4 288.7,699.1 289.2,710.0 C289.7,720.9 290.4,748.0 290.9,750.5 C291.4,753.0 292.0,733.4 292.3,725.0 C292.6,716.6 292.7,707.7 292.9,700.0 C293.1,692.3 293.3,684.2 293.4,678.7 C293.5,673.2 293.5,671.4 293.6,667.1 C293.7,662.8 293.8,656.7 293.9,652.7 C294.0,648.7 294.2,646.7 294.4,643.0 C294.6,639.3 294.9,634.5 295.1,630.5 C295.3,626.5 295.5,622.4 295.7,618.9 C295.9,615.4 296.0,612.5 296.3,609.3 C296.6,606.1 297.0,602.8 297.3,599.6 C297.6,596.4 298.0,594.1 298.3,590.0 C298.6,585.9 298.9,582.3 299.3,575.0 C299.7,567.7 300.2,553.6 300.7,546.1 C301.2,538.6 301.6,537.2 302.3,530.0 C303.1,522.8 304.0,511.4 305.2,503.0 C306.4,494.6 308.0,485.6 309.6,479.6 C311.2,473.6 313.4,470.3 315.0,466.8 C316.6,463.3 317.5,461.3 319.0,458.6 C320.5,455.9 322.3,452.6 324.2,450.4 C326.1,448.2 328.1,446.7 330.3,445.3 C332.5,443.9 331.9,442.8 337.5,442.0 C343.1,441.2 350.3,440.6 363.8,440.3 C377.3,440.0 406.5,440.2 418.5,440.1 C430.5,440.0 430.8,440.3 436.0,439.8 C441.2,439.3 445.2,438.0 450.0,437.3 C454.8,436.6 427.7,435.9 465.0,435.6 C502.3,435.3 639.0,435.6 673.8,435.6" stroke="#ff00ff" stroke-width="2.5" stroke-dasharray="5.4 2.6"/>
<path d="M98.5,661.8 C99.1,659.8 100.5,653.7 102.0,649.6 C103.5,645.5 105.2,641.4 107.3,637.3 C109.3,633.2 111.7,628.8 114.3,625.0 C116.9,621.2 119.8,617.6 123.0,614.5 C126.2,611.4 130.0,608.7 133.5,606.6 C137.0,604.5 140.5,602.9 144.0,601.9 C147.5,600.9 151.1,600.4 154.6,600.5 C158.1,600.6 161.8,601.4 165.0,602.6 C168.2,603.8 170.9,605.4 173.8,607.5 C176.7,609.6 180.6,613.0 182.6,615.4 C184.6,617.8 184.7,619.5 186.0,621.7 C187.3,623.9 188.9,626.3 190.2,628.6 C191.5,630.9 192.5,632.6 193.6,635.5 C194.7,638.4 195.8,642.2 197.0,645.8 C198.2,649.4 199.5,653.2 200.5,656.9 C201.5,660.6 202.2,664.5 203.0,668.1 C203.8,671.7 204.5,675.0 205.2,678.4 C205.8,681.8 206.5,685.6 206.9,688.7 C207.3,691.9 207.1,692.3 207.7,697.3 C208.3,702.3 209.6,711.1 210.3,718.7 C211.1,726.3 211.7,734.3 212.2,743.0 C212.7,751.7 212.7,760.7 213.1,771.0 C213.5,781.3 214.1,797.8 214.6,804.8 C215.1,811.8 215.5,812.4 216.0,813.0 C216.5,813.6 217.4,815.5 217.8,808.5 C218.2,801.5 218.1,781.9 218.3,771.0 C218.5,760.1 218.8,751.7 219.1,743.0 C219.4,734.3 219.6,726.5 220.2,718.7 C220.8,710.9 221.7,703.1 222.5,696.2 C223.3,689.3 224.2,683.8 225.3,677.5 C226.4,671.2 227.8,664.6 229.0,658.7 C230.2,652.8 231.6,646.7 232.8,641.9 C234.1,637.1 235.3,633.9 236.5,630.0 C237.7,626.1 238.8,622.1 239.9,618.8 C241.1,615.5 242.1,613.0 243.4,610.1 C244.7,607.2 246.2,603.6 247.8,601.3 C249.4,599.0 251.1,597.3 253.0,596.1 C254.9,594.9 257.6,594.2 259.2,593.9 C260.8,593.6 261.4,593.6 262.7,594.3 C264.0,594.9 265.7,596.2 267.0,597.8 C268.3,599.4 269.5,601.8 270.5,603.9 C271.5,606.0 272.4,607.9 273.2,610.1 C274.0,612.3 274.9,614.0 275.4,617.1 C275.9,620.2 275.8,625.1 276.1,628.6 C276.5,632.1 277.1,635.0 277.5,638.2 C277.9,641.4 278.2,644.6 278.5,647.8 C278.8,651.0 279.2,654.3 279.5,657.5 C279.8,660.7 280.0,663.9 280.2,667.1 C280.4,670.3 280.4,667.9 280.6,676.7 C280.8,685.5 281.3,702.8 281.6,720.0 C281.9,737.2 282.3,764.5 282.6,780.0 C282.9,795.5 283.1,813.0 283.4,813.0 C283.7,813.0 284.1,795.5 284.3,780.0 C284.6,764.5 284.8,737.5 284.9,720.0 C285.0,702.5 285.1,683.6 285.2,674.8 C285.3,666.0 285.6,670.0 285.7,667.1 C285.8,664.2 285.9,660.7 286.0,657.5 C286.1,654.3 286.2,651.0 286.4,647.8 C286.6,644.6 286.8,641.4 287.0,638.2 C287.2,635.0 287.5,631.8 287.7,628.6 C287.9,625.4 287.9,622.9 288.1,618.9 C288.3,614.9 288.8,608.8 289.1,604.5 C289.4,600.2 289.6,599.9 290.1,592.9 C290.6,585.9 291.1,571.4 291.9,562.2 C292.7,553.1 293.7,547.9 295.1,538.0 C296.5,528.1 298.5,512.7 300.1,503.0 C301.7,493.3 303.1,486.3 304.5,479.6 C305.9,472.9 307.4,467.2 308.8,462.7 C310.2,458.2 311.5,455.6 312.9,452.5 C314.3,449.4 315.6,446.4 317.0,444.3 C318.4,442.2 319.4,440.7 321.1,439.7 C322.8,438.7 320.7,438.6 327.2,438.4 C333.7,438.1 331.2,438.2 360.0,438.2 C388.8,438.2 466.7,438.1 500.0,438.2 C533.3,438.3 544.9,438.2 560.0,438.6 C575.1,439.0 583.1,439.9 590.4,440.4 C597.7,440.9 599.8,440.8 603.9,441.8 C608.0,442.8 611.8,444.4 615.0,446.6 C618.2,448.8 621.2,451.8 623.3,455.0 C625.4,458.2 626.1,461.0 627.4,466.1 C628.7,471.2 630.0,478.8 630.9,485.5 C631.8,492.2 632.4,499.4 633.0,506.3 C633.6,513.2 633.9,519.0 634.4,527.1 C634.9,535.2 635.4,540.3 635.8,554.8 C636.2,569.3 636.7,580.4 637.0,614.2 C637.3,648.0 637.4,757.5 637.6,757.5 C637.8,757.5 637.9,648.0 638.2,614.2 C638.5,580.4 638.8,570.5 639.2,554.8 C639.6,539.1 640.0,531.8 640.6,520.2 C641.2,508.7 641.9,494.3 642.7,485.5 C643.5,476.7 644.4,472.5 645.5,467.4 C646.6,462.3 647.8,458.7 649.6,455.0 C651.5,451.3 654.1,447.7 656.6,445.3 C659.1,442.9 662.0,441.6 664.9,440.4 C667.8,439.2 672.3,438.6 673.8,438.3" stroke="#000" stroke-width="2.5" stroke-dasharray="5.4 2.6"/>
</g>
<line x1="361.0" y1="566.0" x2="411" y2="566.0" stroke="#ff0000" stroke-width="4"/>
<text x="419.2" y="570.3" font-size="12" letter-spacing="0.53" fill="#000">S21 EBG unit-cell patch</text>
<line x1="361.0" y1="583.4" x2="411" y2="583.4" stroke="#ff0000" stroke-width="4" stroke-dasharray="8.8 12.2"/>
<text x="419.2" y="587.7" font-size="12" letter-spacing="0.53" fill="#000">S11 EBG unit-cell patch</text>
<line x1="361.0" y1="602.8" x2="411" y2="602.8" stroke="#ff00ff" stroke-width="4"/>
<text x="419.2" y="607.1" font-size="12" letter-spacing="0.53" fill="#000">S21 EBG unit-cell patch + via</text>
<line x1="363.0" y1="622.0" x2="411" y2="622.0" stroke="#ff00ff" stroke-width="4" stroke-dasharray="7.6 13.2"/>
<text x="419.2" y="626.3" font-size="12" letter-spacing="0.53" fill="#000">S11 EBG unit-cell patch + via</text>
<line x1="361.0" y1="639.6" x2="411" y2="639.6" stroke="#000" stroke-width="4"/>
<text x="419.2" y="643.9" font-size="12" letter-spacing="0.53" fill="#000">S21 EBG unit-cell patch + via + split rings</text>
<line x1="361.0" y1="657.5" x2="411" y2="657.5" stroke="#000" stroke-width="4" stroke-dasharray="7.6 13.8"/>
<text x="419.2" y="661.8" font-size="12" letter-spacing="0.53" fill="#000">S11 EBG unit-cell patch + via + split rings</text>
<text x="60.5" y="442.2" font-size="17.5" text-anchor="end" fill="#222">0</text>
<text x="60.5" y="517.0" font-size="17.5" text-anchor="end" fill="#222">-10</text>
<text x="60.5" y="591.9" font-size="17.5" text-anchor="end" fill="#222">-20</text>
<text x="60.5" y="666.7" font-size="17.5" text-anchor="end" fill="#222">-30</text>
<text x="60.5" y="741.6" font-size="17.5" text-anchor="end" fill="#222">-40</text>
<text x="60.5" y="816.4" font-size="17.5" text-anchor="end" fill="#222">-50</text>
<text x="78.9" y="847" font-size="17.5" text-anchor="middle" fill="#222">0</text>
<text x="177.9" y="847" font-size="17.5" text-anchor="middle" fill="#222">5</text>
<text x="276.9" y="847" font-size="17.5" text-anchor="middle" fill="#222">10</text>
<text x="375.9" y="847" font-size="17.5" text-anchor="middle" fill="#222">15</text>
<text x="474.9" y="847" font-size="17.5" text-anchor="middle" fill="#222">20</text>
<text x="573.9" y="847" font-size="17.5" text-anchor="middle" fill="#222">25</text>
<text x="672.9" y="847" font-size="17.5" text-anchor="middle" fill="#222">30</text>
<text x="376.5" y="886" font-size="22.4" text-anchor="middle" fill="#111">Freq. (GHz)</text>
<text transform="translate(19.5,611.5) rotate(-90)" font-size="23.2" text-anchor="middle" fill="#111">(dB)</text>
<line x1="0" y1="891.8" x2="685" y2="891.8" stroke="#e4e4e4" stroke-width="1" stroke-dasharray="1 5"/>
<text x="370.7" y="388.5" font-family="Liberation Serif, serif" font-size="25" text-anchor="middle" fill="#000">(a)</text>
<text x="370" y="925.5" font-family="Liberation Serif, serif" font-size="25.5" text-anchor="middle" fill="#000">(b)</text>
</svg>
</body></html>
